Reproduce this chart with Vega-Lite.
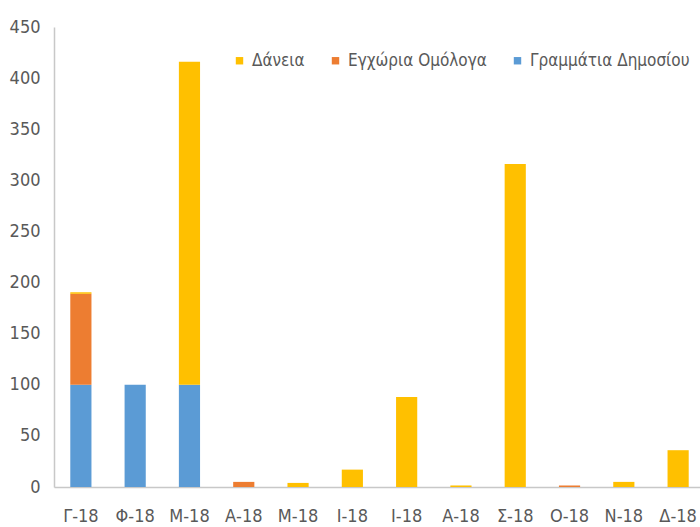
{
  "$schema": "https://vega.github.io/schema/vega-lite/v6.json",
  "autosize": {"type": "none"},
  "width": 651,
  "height": 460,
  "padding": {"left": 54, "top": 27, "right": 0, "bottom": 40},
  "background": "white",
  "config": {"view": {"stroke": null}, "font": "DejaVu Sans Condensed, Liberation Sans, sans-serif"},
  "data": {"values": [
    {"m": 1, "Γραμμάτια Δημοσίου": 100, "Εγχώρια Ομόλογα": 89, "Δάνεια": 1.5},
    {"m": 2, "Γραμμάτια Δημοσίου": 100, "Εγχώρια Ομόλογα": 0, "Δάνεια": 0},
    {"m": 3, "Γραμμάτια Δημοσίου": 100, "Εγχώρια Ομόλογα": 0, "Δάνεια": 316},
    {"m": 4, "Γραμμάτια Δημοσίου": 0, "Εγχώρια Ομόλογα": 5, "Δάνεια": 0},
    {"m": 5, "Γραμμάτια Δημοσίου": 0, "Εγχώρια Ομόλογα": 0, "Δάνεια": 4},
    {"m": 6, "Γραμμάτια Δημοσίου": 0, "Εγχώρια Ομόλογα": 0, "Δάνεια": 17},
    {"m": 7, "Γραμμάτια Δημοσίου": 0, "Εγχώρια Ομόλογα": 0, "Δάνεια": 88},
    {"m": 8, "Γραμμάτια Δημοσίου": 0, "Εγχώρια Ομόλογα": 0, "Δάνεια": 1.5},
    {"m": 9, "Γραμμάτια Δημοσίου": 0, "Εγχώρια Ομόλογα": 0, "Δάνεια": 316},
    {"m": 10, "Γραμμάτια Δημοσίου": 0, "Εγχώρια Ομόλογα": 1.5, "Δάνεια": 0},
    {"m": 11, "Γραμμάτια Δημοσίου": 0, "Εγχώρια Ομόλογα": 0, "Δάνεια": 5},
    {"m": 12, "Γραμμάτια Δημοσίου": 0, "Εγχώρια Ομόλογα": 0, "Δάνεια": 36}
  ]},
  "transform": [
    {"fold": ["Γραμμάτια Δημοσίου", "Εγχώρια Ομόλογα", "Δάνεια"], "as": ["s", "v"]},
    {"calculate": "indexof(['Γραμμάτια Δημοσίου','Εγχώρια Ομόλογα','Δάνεια'], datum.s)", "as": "ord"}
  ],
  "mark": {"type": "bar"},
  "encoding": {
    "x": {
      "field": "m", "type": "ordinal", "title": null,
      "scale": {"paddingInner": 0.61, "paddingOuter": 0.3},
      "axis": {
        "labelAngle": 0, "ticks": false, "domainColor": "#c8c8c8", "domainWidth": 1.5,
        "labelColor": "#595959", "labelFontSize": 18, "labelPadding": 20,
        "labelExpr": "['Γ-18','Φ-18','Μ-18','Α-18','Μ-18','Ι-18','Ι-18','Α-18','Σ-18','Ο-18','Ν-18','Δ-18'][datum.value-1]"
      }
    },
    "y": {
      "field": "v", "type": "quantitative", "title": null, "stack": "zero",
      "scale": {"domain": [0, 450], "nice": false},
      "axis": {
        "values": [0, 50, 100, 150, 200, 250, 300, 350, 400, 450],
        "grid": false, "ticks": false, "domainColor": "#c8c8c8", "domainWidth": 1.5,
        "labelColor": "#595959", "labelFontSize": 18, "labelPadding": 14
      }
    },
    "color": {
      "field": "s", "type": "nominal",
      "scale": {
        "domain": ["Δάνεια", "Εγχώρια Ομόλογα", "Γραμμάτια Δημοσίου"],
        "range": ["#FFC000", "#ED7D31", "#5B9BD5"]
      },
      "legend": {
        "title": null, "orient": "none", "direction": "horizontal",
        "legendX": 177, "legendY": 25,
        "symbolType": "square", "symbolSize": 55, "symbolStrokeWidth": 0,
        "labelFontSize": 17, "labelColor": "#595959", "columnPadding": 22, "labelOffset": 4
      }
    },
    "order": {"field": "ord", "type": "quantitative"}
  }
}
